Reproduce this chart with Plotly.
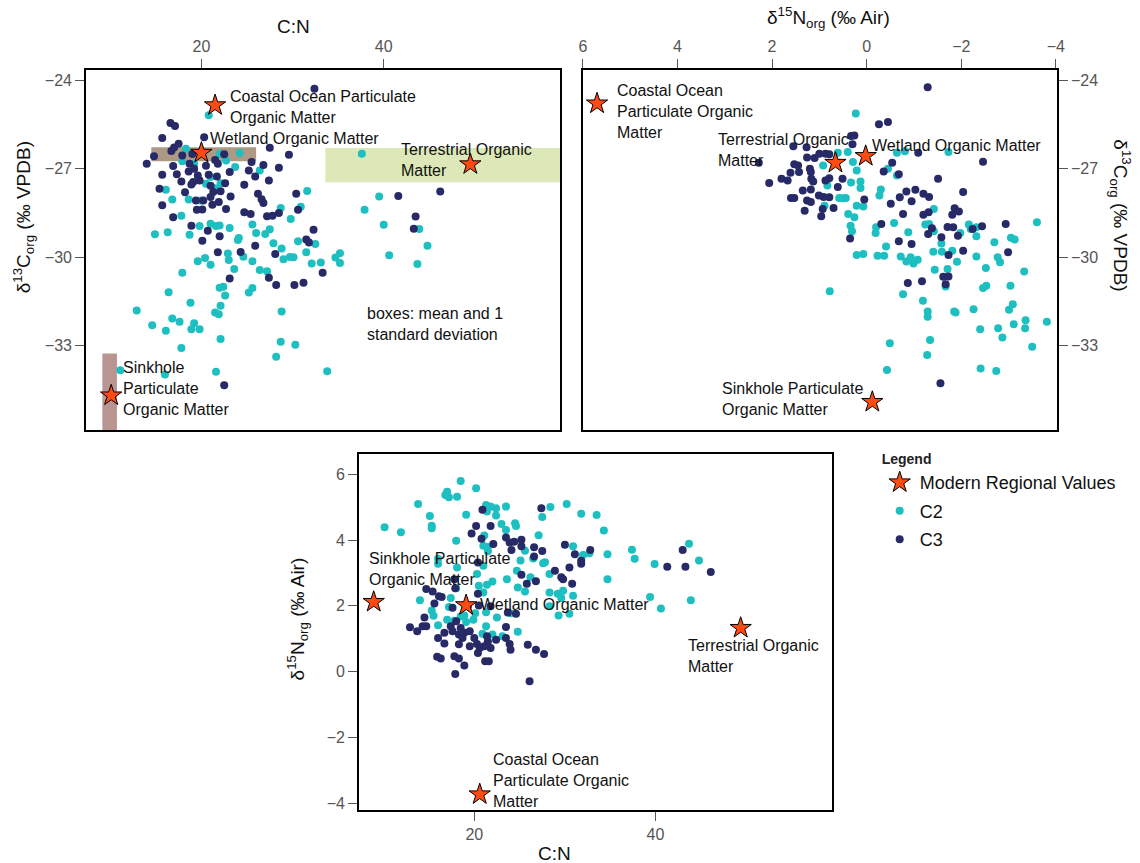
import plotly.graph_objects as go

# ---------------- data ----------------
# Panel A: C:N (x) vs d13C (y)
a_c2_cn = [20.8, 37.6, 17.9, 18.3, 19.2, 20.5, 21.0, 21.5, 22.0, 22.7, 22.1, 23.7, 24.2, 26.4, 16.1, 16.8, 18.6, 19.9,
           17.8, 16.3, 14.9, 18.7, 19.8, 21.0, 21.6, 22.0, 23.1, 24.1, 24.0, 25.6, 26.0, 27.0, 27.5, 29.8, 30.9, 31.6,
           28.7, 37.9, 39.5, 40.0, 43.9, 44.8, 40.6, 43.7, 19.6, 20.4, 21.0, 22.9, 23.0, 24.6, 25.6, 23.6, 26.4, 27.2,
           27.9, 28.8, 29.0, 29.7, 30.1, 30.6, 31.5, 32.5, 32.1, 33.1, 34.7, 35.2, 35.2, 17.9, 16.4, 22.0, 22.4, 22.6,
           25.2, 25.6, 18.8, 12.9, 14.6, 16.8, 17.6, 19.2, 18.9, 19.8, 16.1, 21.5, 21.9, 22.1, 22.1, 17.8, 28.8, 28.7,
           30.3, 28.2, 21.6, 33.8, 11.1, 16.0]
a_c2_d13c = [-25.19, -26.49, -26.75, -26.32, -26.83, -27.51, -27.28, -27.66, -26.49, -26.72, -27.49, -26.94, -26.47,
             -27.06, -27.71, -28.04, -28.04, -28.08, -28.59, -29.15, -29.22, -29.24, -28.94, -28.86, -28.94, -28.92,
             -29.01, -29.35, -29.41, -28.89, -29.18, -29.21, -29.05, -28.70, -28.29, -27.75, -28.33, -28.39, -27.94,
             -28.90, -29.04, -29.61, -29.93, -30.23, -30.13, -30.02, -30.25, -29.87, -30.09, -29.98, -30.13, -30.40,
             -30.43, -30.47, -29.52, -29.70, -30.07, -29.99, -30.00, -29.46, -29.83, -29.55, -30.21, -30.18, -30.01,
             -29.86, -30.19, -30.52, -31.18, -31.03, -31.00, -31.29, -31.19, -31.04, -31.54, -31.80, -32.30, -32.07,
             -32.18, -32.23, -32.44, -32.44, -32.49, -31.87, -31.93, -31.64, -32.77, -33.07, -31.84, -32.86, -32.96,
             -33.37, -33.88, -33.86, -33.83, -33.97]
a_c3_cn = [32.4, 16.6, 17.1, 15.7, 20.3, 14.0, 14.8, 16.7, 17.0, 17.5, 17.9, 16.9, 15.7, 17.3, 17.8, 15.4, 15.7, 16.9,
           18.7, 18.6, 19.2, 19.6, 19.1, 19.8, 18.9, 19.4, 20.2, 19.5, 20.1, 21.0, 21.2, 21.9, 21.3, 22.1, 21.0, 21.7,
           22.6, 21.8, 22.5, 23.1, 23.2, 22.7, 24.7, 25.2, 25.5, 25.9, 27.5, 29.6, 26.8, 28.5, 27.4, 26.2, 26.6, 26.8,
           24.7, 25.4, 27.2, 27.8, 28.5, 30.4, 30.6, 18.9, 20.7, 20.1, 22.0, 21.8, 24.3, 25.9, 28.1, 27.4, 23.1, 28.2,
           30.2, 31.2, 31.5, 31.8, 32.3, 33.3, 41.6, 46.2, 43.5, 43.3, 22.5, 20.5, 19.0, 21.5, 18.2, 20.8]
a_c3_d13c = [-24.29, -25.45, -25.55, -25.96, -25.93, -26.83, -26.58, -26.40, -26.28, -26.15, -26.55, -26.91, -27.20,
             -27.19, -27.43, -27.68, -28.24, -28.64, -26.83, -27.09, -27.00, -27.23, -27.45, -27.40, -27.53, -28.08,
             -28.08, -28.39, -28.38, -27.96, -28.22, -28.13, -27.79, -27.76, -27.58, -27.26, -27.49, -26.83, -26.51,
             -27.11, -27.94, -28.36, -27.54, -27.06, -26.77, -27.26, -26.29, -26.53, -26.87, -26.97, -27.40, -27.85,
             -28.03, -28.16, -28.47, -28.53, -28.61, -28.59, -28.50, -27.85, -28.39, -28.93, -29.10, -29.44, -29.29,
             -29.83, -29.82, -29.61, -29.89, -30.69, -30.72, -30.94, -30.94, -30.86, -29.40, -29.50, -29.07, -30.52,
             -27.92, -27.77, -28.62, -29.03, -34.33, -26.90, -26.50, -26.70, -27.80, -27.20]

# Panel B: d15N (x) vs d13C (y)
b_c2_d15n = [0.23, 0.92, 0.61, 0.40, 0.29, 0.21, 0.33, 0.13, 0.13, 0.83, 0.58, 0.44, 0.50, 0.89, 0.21, 0.07, 0.39, 0.26,
             0.34, 0.31, -0.30, -0.27, -0.20, -0.19, -0.41, 0.21, 0.07, -0.23, -0.37, -0.58, -0.88, -0.72, -0.84, -0.93,
             -0.99, -1.08, -0.64, -0.81, -0.64, -0.45, -1.73, -1.42, -1.24, -1.32, -1.42, -1.58, -1.59, -1.81, -1.91,
             -1.44, -1.71, -1.67, -2.16, -2.20, -2.32, -1.98, -2.32, -2.52, -2.70, -2.77, -2.82, -3.05, -3.13, -3.33,
             -3.60, -2.46, -2.53, -3.04, -0.77, -1.19, -1.29, -1.29, -1.85, -1.88, -2.26, -3.01, -3.09, -2.40, -2.78,
             -2.87, -3.11, -3.36, -3.35, -3.81, -3.50, -0.49, -1.34, -1.28, -0.43, -2.41, -2.74, 0.78, -1.41, -2.32]
b_c2_d13c = [-25.13, -26.89, -26.46, -26.43, -26.77, -27.06, -27.47, -27.43, -27.65, -27.57, -27.99, -27.99, -28.00,
             -28.25, -28.25, -28.28, -28.53, -28.64, -28.93, -29.12, -27.70, -27.91, -28.98, -29.18, -29.63, -29.92,
             -29.89, -29.95, -29.95, -28.84, -29.15, -29.97, -30.14, -30.00, -30.21, -30.08, -26.46, -26.41, -27.23,
             -27.00, -26.43, -28.36, -28.89, -28.87, -29.12, -29.53, -29.81, -29.78, -30.15, -30.42, -30.40, -30.99,
             -28.89, -29.04, -29.29, -29.18, -29.97, -30.36, -29.49, -30.00, -30.17, -29.34, -29.40, -30.48, -28.81,
             -31.04, -30.96, -30.96, -31.25, -31.47, -31.84, -32.01, -31.84, -31.87, -31.76, -31.78, -31.59, -32.44,
             -32.40, -32.72, -32.27, -32.13, -32.40, -32.18, -33.03, -32.91, -32.80, -33.31, -33.82, -33.77, -33.85,
             -31.15, -29.81, -28.98]
b_c3_d15n = [-1.29, -0.26, -0.45, 0.33, 0.26, 0.30, 1.55, 1.27, 1.00, 0.87, 0.79, 1.26, 1.10, 1.53, 1.45, 2.28, 1.20,
             1.18, 1.61, 1.43, 2.06, 1.80, 1.67, 1.17, 1.13, 0.87, 0.79, 0.51, 0.61, 1.35, 1.18, 1.60, 1.53, 1.01, 0.91,
             0.79, 1.26, 1.18, 1.31, 0.93, 0.70, 0.96, 0.05, 0.35, -0.54, -0.36, -0.68, -1.09, -2.46, -1.51, -0.84,
             -1.03, -1.20, -1.32, -2.04, -0.70, -0.95, -0.51, -1.86, -1.95, -1.81, -1.20, -1.31, -0.77, -0.31, -1.38,
             -1.71, -1.83, -1.93, -2.24, -2.44, -2.94, -1.58, -1.30, -0.68, -0.95, -2.04, -2.99, -1.73, -1.62, -1.73,
             -1.67, -0.87, -1.17, -1.56]
b_c3_d13c = [-24.24, -25.49, -25.42, -25.89, -25.87, -26.17, -26.24, -26.27, -26.49, -26.49, -26.51, -26.62, -26.64,
             -26.85, -26.89, -26.80, -27.00, -27.11, -27.14, -27.11, -27.48, -27.34, -27.40, -27.34, -27.43, -27.40,
             -27.32, -27.34, -27.62, -27.74, -27.70, -27.99, -27.99, -27.91, -27.96, -27.97, -28.08, -28.13, -28.42,
             -28.36, -28.33, -28.61, -28.04, -29.36, -26.80, -27.09, -27.19, -26.46, -26.76, -27.34, -27.77, -27.71,
             -27.85, -27.96, -27.79, -27.97, -28.10, -28.19, -28.34, -28.45, -28.56, -28.56, -28.47, -28.53, -28.87,
             -29.02, -28.97, -28.98, -29.27, -29.04, -28.95, -28.87, -29.32, -29.21, -29.46, -29.55, -29.78, -29.83,
             -29.92, -30.66, -30.65, -30.91, -30.87, -30.81, -34.27]

# Panel C: C:N (x) vs d15N (y)
c_c2_cn = [18.5, 20.2, 17.0, 16.8, 17.2, 18.1, 13.8, 21.3, 21.8, 22.4, 23.5, 21.4, 19.1, 22.4, 15.1, 15.3, 15.3, 10.1,
           11.9, 23.0, 23.5, 24.5, 24.6, 28.4, 30.2, 31.8, 33.5, 27.5, 27.1, 34.3, 21.1, 18.0, 21.0, 21.5, 21.5, 25.6,
           25.1, 26.5, 27.6, 27.8, 30.9, 32.0, 32.7, 34.7, 37.4, 37.7, 39.9, 43.7, 44.8, 16.0, 18.1, 21.0, 20.3, 24.7,
           23.6, 22.0, 21.4, 20.5, 26.2, 28.3, 34.7, 24.8, 25.6, 21.0, 28.3, 29.2, 29.8, 29.6, 30.9, 39.4, 40.6, 43.9,
           14.0, 15.3, 15.5, 16.0, 17.0, 17.4, 17.2, 17.8, 18.5, 18.9, 19.1, 19.9, 20.1, 21.3, 21.3, 22.5, 23.1, 22.0,
           20.9, 24.8, 24.0, 28.3, 29.3, 30.5, 16.0, 18.0]
c_c2_d15n = [5.80, 5.58, 5.47, 5.37, 5.30, 5.32, 5.10, 5.07, 5.02, 4.97, 5.02, 4.87, 4.77, 4.75, 4.73, 4.44, 4.36, 4.39,
             4.24, 4.49, 4.31, 4.51, 4.43, 5.01, 5.10, 4.80, 4.76, 4.70, 4.15, 4.29, 4.14, 3.98, 3.83, 3.79, 3.66, 3.68,
             3.38, 3.44, 3.30, 3.33, 3.81, 3.55, 3.60, 3.57, 3.71, 3.43, 3.27, 3.89, 3.38, 3.28, 3.17, 3.22, 2.97, 3.07,
             2.81, 2.74, 2.64, 2.61, 2.87, 2.97, 2.81, 2.56, 2.44, 2.41, 2.41, 2.37, 2.46, 2.24, 2.31, 2.27, 1.92, 2.17,
             2.17, 1.86, 1.70, 1.41, 1.58, 2.24, 1.97, 1.55, 1.68, 1.71, 1.51, 1.58, 1.78, 1.38, 1.81, 1.65, 1.08, 1.13,
             1.15, 1.21, 1.78, 1.99, 1.71, 1.76, 3.43, 2.54]
c_c3_cn = [20.9, 27.4, 20.2, 21.8, 19.7, 20.8, 22.1, 23.5, 23.9, 24.4, 25.2, 24.1, 25.2, 26.6, 27.5, 26.6, 30.0, 31.1,
           31.8, 31.8, 32.8, 28.9, 30.5, 29.6, 29.8, 30.8, 25.2, 25.8, 26.8, 43.0, 41.3, 43.3, 46.1, 20.4, 17.8, 17.9,
           20.4, 14.7, 15.4, 16.1, 16.4, 15.6, 14.5, 12.9, 13.7, 14.3, 14.7, 16.0, 16.7, 17.6, 17.4, 18.0, 18.5, 18.3,
           18.9, 19.5, 20.0, 18.7, 16.7, 18.3, 19.5, 20.3, 20.6, 20.4, 21.1, 21.8, 21.5, 21.4, 22.4, 23.5, 23.5, 23.9,
           24.0, 25.9, 26.8, 27.7, 21.2, 21.6, 15.9, 16.3, 17.8, 18.3, 18.9, 17.9, 26.1, 24.6, 23.7, 21.8, 20.5, 17.6,
           19.3]
c_c3_d15n = [4.92, 4.97, 4.43, 4.43, 4.20, 4.04, 3.88, 4.08, 3.93, 3.95, 4.01, 3.70, 3.81, 3.78, 3.67, 3.50, 3.86, 3.57,
             3.37, 3.28, 3.70, 3.07, 3.17, 2.87, 2.81, 2.67, 2.95, 2.67, 2.75, 3.70, 3.19, 3.19, 3.03, 3.32, 2.81, 2.54,
             2.37, 2.51, 2.44, 2.29, 2.27, 2.07, 1.65, 1.35, 1.23, 1.38, 1.38, 1.02, 1.18, 1.23, 1.38, 1.53, 1.33, 1.13,
             1.18, 1.23, 1.02, 1.02, 0.86, 0.83, 0.77, 0.84, 0.72, 0.57, 0.77, 0.72, 0.92, 1.08, 0.97, 1.36, 1.02, 0.84,
             0.67, 0.82, 0.67, 0.54, 0.32, 0.32, 0.45, 0.40, 0.47, 0.40, 0.19, -0.07, -0.29, 1.76, 1.80, 1.99, 2.01,
             1.94, 2.00]

# Modern regional values (order: coastal ocean POM, wetland, terrestrial, sinkhole POM)
star_a_cn = [21.5, 20.0, 49.5, 10.1]
star_a_d13c = [-24.85, -26.46, -26.85, -34.68]
star_b_d15n = [5.70, 0.02, 0.66, -0.12]
star_b_d13c = [-24.79, -26.57, -26.80, -34.90]
star_c_cn = [20.6, 19.1, 49.4, 8.9]
star_c_d15n = [-3.73, 2.02, 1.33, 2.12]

# Boxes: mean and 1 standard deviation (wetland, terrestrial, sinkhole)
box_cn_mean = [20.25, 49.5, 9.93]
box_cn_sd = [5.75, 15.9, 0.8]
box_d13c_mean = [-26.51, -26.88, -34.68]
box_d13c_sd = [0.24, 0.58, 1.42]
box_colors = ["rgba(160,135,112,0.85)", "rgba(214,228,170,0.85)", "rgba(176,138,132,0.9)"]

# ---------------- style ----------------
FONT = "Liberation Sans, Arial, sans-serif"
C2_COL = "#1EBFC0"
C3_COL = "#272A66"
STAR_COL = "#FF4A12"
TICK_FONT = dict(family=FONT, size=16, color="#555555")
DOT = 8
STAR = 16

fig = go.Figure()


def add_panel(xa, ya, c2x, c2y, c3x, c3y, sx, sy, show):
    fig.add_trace(go.Scatter(x=c2x, y=c2y, mode="markers", name="C2", legendgroup="C2", showlegend=show,
                             legendrank=2, marker=dict(color=C2_COL, size=DOT), xaxis=xa, yaxis=ya))
    fig.add_trace(go.Scatter(x=c3x, y=c3y, mode="markers", name="C3", legendgroup="C3", showlegend=show,
                             legendrank=3, marker=dict(color=C3_COL, size=DOT), xaxis=xa, yaxis=ya))
    fig.add_trace(go.Scatter(x=sx, y=sy, mode="markers", name="Modern Regional Values", legendgroup="MRV",
                             showlegend=show, legendrank=1,
                             marker=dict(symbol="star", color=STAR_COL, size=STAR, line=dict(color="black", width=1)),
                             xaxis=xa, yaxis=ya))


add_panel("x", "y", a_c2_cn, a_c2_d13c, a_c3_cn, a_c3_d13c, star_a_cn, star_a_d13c, True)
add_panel("x2", "y2", b_c2_d15n, b_c2_d13c, b_c3_d15n, b_c3_d13c, star_b_d15n, star_b_d13c, False)
add_panel("x3", "y3", c_c2_cn, c_c2_d15n, c_c3_cn, c_c3_d15n, star_c_cn, star_c_d15n, False)

shapes = []
for m, s, dm, ds, col in zip(box_cn_mean, box_cn_sd, box_d13c_mean, box_d13c_sd, box_colors):
    shapes.append(dict(type="rect", xref="x", yref="y", x0=m - s, x1=m + s, y0=dm - ds, y1=dm + ds,
                       fillcolor=col, line=dict(width=0), layer="below"))

axis_common = dict(showline=True, mirror=True, linecolor="black", linewidth=2, ticks="outside", ticklen=9,
                   tickcolor="#555555", tickwidth=1, tickfont=TICK_FONT, showgrid=False, zeroline=False)

W, H = 1140, 863


def dom(a, b, total, flip=False):
    if flip:
        return [1 - b / total, 1 - a / total]
    return [a / total, b / total]


layout = dict(
    width=W, height=H, margin=dict(l=0, r=0, t=0, b=0),
    paper_bgcolor="white", plot_bgcolor="white",
    font=dict(family=FONT, color="#111111"),
    xaxis=dict(domain=dom(83, 562, W), range=[7.35, 59.35], side="top", tickvals=[20, 40], anchor="y", **axis_common),
    yaxis=dict(domain=dom(70, 431, H, True), range=[-35.85, -23.65], tickvals=[-24, -27, -30, -33], anchor="x",
               **axis_common),
    xaxis2=dict(domain=dom(585, 1064, W), range=[6, -4.02], side="top", tickvals=[6, 4, 2, 0, -2, -4], anchor="y2",
                **axis_common),
    yaxis2=dict(domain=dom(70, 431, H, True), range=[-35.85, -23.65], side="right", tickvals=[-24, -27, -30, -33],
                anchor="x2", **axis_common),
    xaxis3=dict(domain=dom(359, 837, W), range=[7.3, 59.5], tickvals=[20, 40], anchor="y3", **axis_common),
    yaxis3=dict(domain=dom(455, 812, H, True), range=[-4.21, 6.62], tickvals=[6, 4, 2, 0, -2, -4], anchor="x3",
                **axis_common),
    shapes=shapes,
    legend=dict(x=885 / W, y=1 - 447 / H, xanchor="left", yanchor="top", bgcolor="rgba(0,0,0,0)",
                font=dict(family=FONT, size=18, color="#111111"),
                title=dict(text="<b>Legend</b>", font=dict(family=FONT, size=14, color="#222222")),
                tracegroupgap=2, itemsizing="trace"),
)
fig.update_layout(**layout)

LBL = dict(family=FONT, size=16, color="#111111")
labels = [
    ("x", "y", 22.9, -24.9, "Coastal Ocean Particulate<br>Organic Matter"),
    ("x", "y", 20.7, -25.98, "Wetland Organic Matter"),
    ("x", "y", 41.65, -26.7, "Terrestrial Organic<br>Matter"),
    ("x", "y", 11.15, -34.46, "Sinkhole<br>Particulate<br>Organic Matter"),
    ("x", "y", 38.0, -32.25, "boxes: mean and 1<br>standard deviation"),
    ("x2", "y2", 5.32, -25.06, "Coastal Ocean<br>Particulate Organic<br>Matter"),
    ("x2", "y2", 3.19, -26.38, "Terrestrial Organic<br>Matter"),
    ("x2", "y2", -0.08, -26.21, "Wetland Organic Matter"),
    ("x2", "y2", 3.09, -34.79, "Sinkhole Particulate<br>Organic Matter"),
    ("x3", "y3", 8.17, 3.13, "Sinkhole Particulate<br>Organic Matter"),
    ("x3", "y3", 20.37, 2.05, "Wetland Organic Matter"),
    ("x3", "y3", 43.33, 0.49, "Terrestrial Organic<br>Matter"),
    ("x3", "y3", 21.79, -3.32, "Coastal Ocean<br>Particulate Organic<br>Matter"),
]
for xr, yr, x, y, t in labels:
    fig.add_annotation(xref=xr, yref=yr, x=x, y=y, text=t, showarrow=False, xanchor="left", yanchor="middle",
                       align="left", font=LBL)

TTL = dict(family=FONT, size=19, color="#111111")
titles = [
    (293, 27, 0, "C:N"),
    (20, 218, -90, "δ<sup>13</sup>C<sub>org</sub> (‰ VPDB)"),
    (833, 18, 0, "δ<sup>15</sup>N<sub>org</sub> (‰ Air)"),
    (1128, 216, 90, "δ<sup>13</sup>C<sub>org</sub> (‰ VPDB)"),
    (297, 620, -90, "δ<sup>15</sup>N<sub>org</sub> (‰ Air)"),
    (556, 855, 0, "C:N"),
]
for px, py, ang, t in titles:
    fig.add_annotation(xref="paper", yref="paper", x=px / W, y=1 - py / H, text=t, showarrow=False,
                       xanchor="center", yanchor="middle", textangle=ang, font=TTL)

fig.write_html("out.html")
